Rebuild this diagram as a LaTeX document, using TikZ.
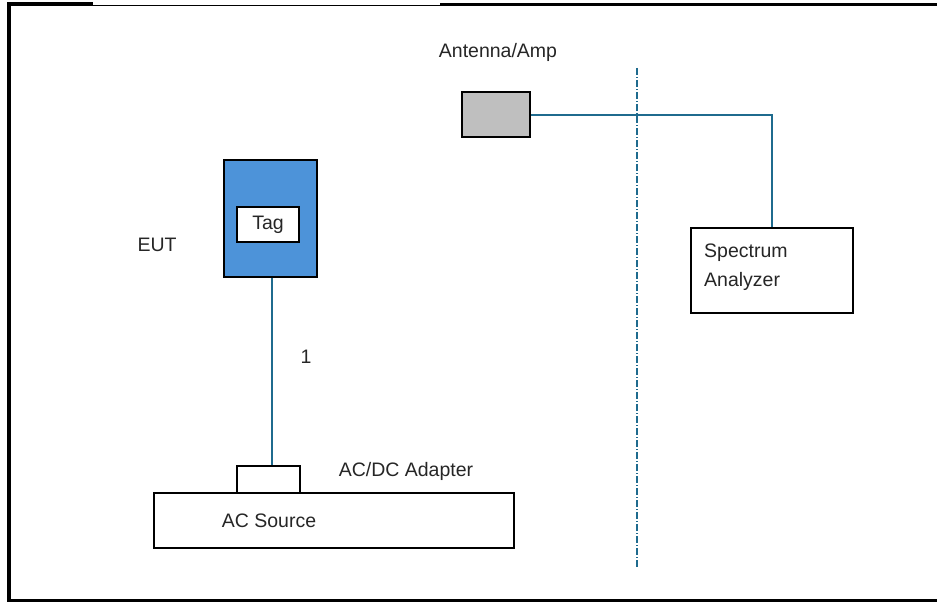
\documentclass[tikz,border=0pt]{standalone}
\usepackage{fontspec}
\setmainfont{Liberation Sans}
\usetikzlibrary{positioning}
\definecolor{cablecol}{HTML}{1F6B8E}
\definecolor{eutcol}{HTML}{4D93D9}
\definecolor{antcol}{HTML}{BFBFBF}

\begin{document}
\begin{tikzpicture}[x=1pt, y=-1pt,
    box/.style={draw=black, line width=1.6pt, inner sep=0pt},
    lbl/.style={font=\fontsize{19.5}{23}\selectfont, text=black!85, inner sep=0pt},
    cable/.style={draw=cablecol, line width=2pt},
    thincable/.style={draw=cablecol, line width=1.2pt},
    sepline/.style={draw=cablecol, line width=1.2pt, dash pattern=on 7pt off 2pt on 1pt off 2pt}]
    \useasboundingbox (0,0) rectangle (937,602);

    % Draw the page frame
    \draw[line width=4pt] (9,602) -- (9,4.5) -- (93,4.5);
    \draw[line width=1.5pt] (93,5.5) -- (440,5.5);
    \draw[line width=3pt] (440,4.5) -- (937,4.5);
    \draw[line width=3.5pt] (7,600.5) -- (937,600.5);

    % Antenna and analyzer
    \node[box, fill=antcol, minimum width=68pt, minimum height=45pt] (ant) at (496,114.5) {};
    \node[lbl] (antlbl) at (498,52) {Antenna/Amp};
    \node[box, fill=white, minimum width=162pt, minimum height=85pt] (sa) at (772,270.5) {};
    \node[lbl, anchor=north west, align=left, font=\fontsize{19.5}{29}\selectfont] (salbl) at (704,244) {Spectrum\\Analyzer};

    % Separation line
    \coordinate (septop) at (637,68);
    \coordinate (sepbot) at (637,567);
    \draw[sepline] (septop) -- (sepbot);

    % EUT with tag
    \node[box, fill=eutcol, minimum width=93pt, minimum height=117pt] (eut) at (270.5,218.5) {};
    \node[box, fill=white, minimum width=62pt, minimum height=35pt] (tag) at (268,224.5) {};
    \node[lbl] at (tag) {Tag};
    \node[lbl] (eutlbl) at (157,245) {EUT};

    % Adapter and AC source
    \node[box, fill=white, minimum width=360pt, minimum height=55pt] (src) at (334,520.5) {};
    \node[box, fill=white, minimum width=63pt, minimum height=27pt] (adp) at (268.5,479.5) {};
    \node[lbl] (srclbl) at (269,521) {AC Source};
    \node[lbl] (adplbl) at (406,471) {AC/DC Adapter};

    % Cables
    \draw[cable] (ant.east) -- (ant.east -| sa.north) -- (sa.north);
    \draw[thincable] ([xshift=1.5pt]eut.south) -- ([xshift=1.5pt]eut.south |- adp.north);
    \node[lbl] (cablenum) at (306,357) {1};
\end{tikzpicture}
\end{document}
